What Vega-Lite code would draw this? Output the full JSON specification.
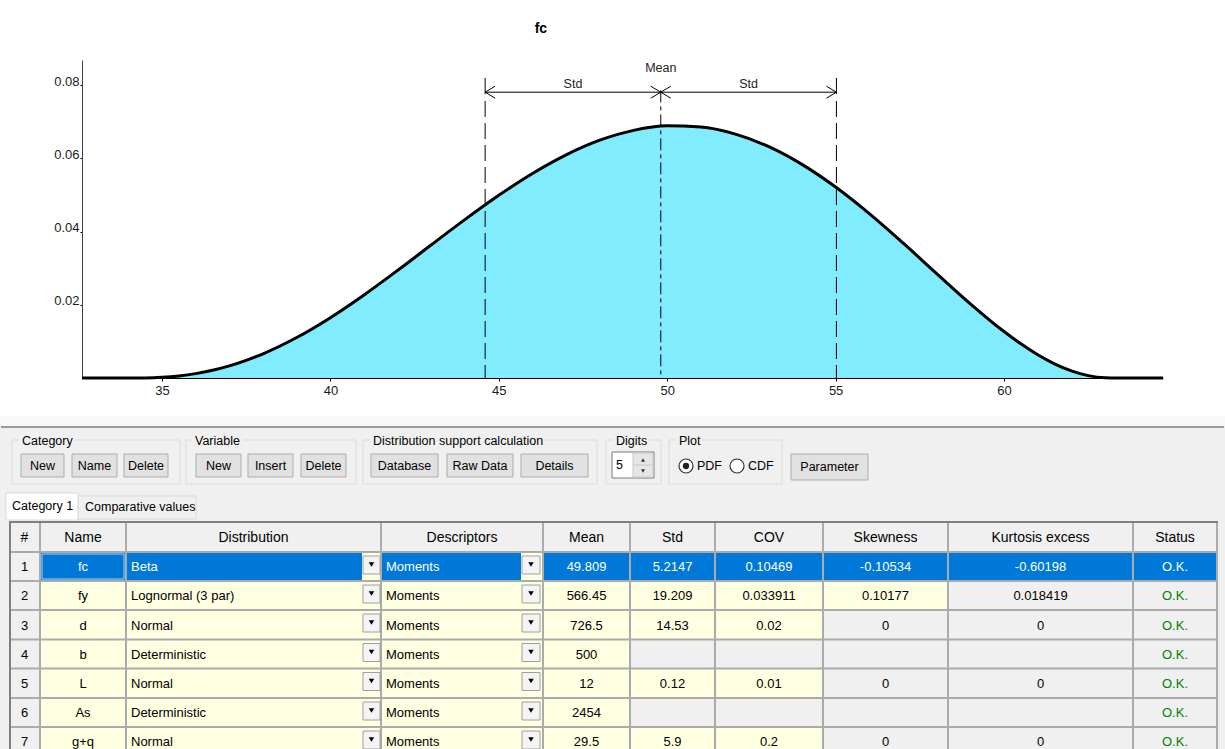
{
  "$schema": "https://vega.github.io/schema/vega-lite/v6.json",
  "padding": {"top": 21, "left": 0, "right": 0, "bottom": 0},
  "background": "white",
  "spacing": 9,
  "config": {"view": {"stroke": null}, "font": "Liberation Sans", "text": {"font": "Liberation Sans"}},
  "datasets": {
    "pdf": [
      {"x": 32.625, "y": 0}, {"x": 34.057, "y": 0}, {"x": 34.5, "y": 0.0000265}, {"x": 35, "y": 0.000189},
      {"x": 35.5, "y": 0.000562}, {"x": 36, "y": 0.001191}, {"x": 36.5, "y": 0.002101}, {"x": 37, "y": 0.003307},
      {"x": 37.5, "y": 0.004813}, {"x": 38, "y": 0.006615}, {"x": 39, "y": 0.011059}, {"x": 40, "y": 0.016492},
      {"x": 41, "y": 0.0227}, {"x": 42, "y": 0.029433}, {"x": 43, "y": 0.036409}, {"x": 44, "y": 0.043337},
      {"x": 45, "y": 0.049928}, {"x": 46, "y": 0.055899}, {"x": 47, "y": 0.060993}, {"x": 48, "y": 0.06498},
      {"x": 49, "y": 0.067667}, {"x": 50, "y": 0.068908}, {"x": 51, "y": 0.068607}, {"x": 52, "y": 0.066725},
      {"x": 53, "y": 0.063286}, {"x": 54, "y": 0.058383}, {"x": 55, "y": 0.05218}, {"x": 56, "y": 0.044915},
      {"x": 57, "y": 0.036903}, {"x": 58, "y": 0.028536}, {"x": 59, "y": 0.020287}, {"x": 60, "y": 0.012694},
      {"x": 60.5, "y": 0.009333}, {"x": 61, "y": 0.006366}, {"x": 61.5, "y": 0.003876}, {"x": 62, "y": 0.001945},
      {"x": 62.5, "y": 0.000647}, {"x": 63, "y": 0.0000444}, {"x": 63.188, "y": 0}, {"x": 64.72, "y": 0}
    ],
    "stats": [{"mean": 49.809, "std": 5.2147, "lo": 44.5943, "hi": 55.0237}],
    "arrows": [{"x": 44.5943, "d": "l"}, {"x": 49.809, "d": "r"}, {"x": 49.809, "d": "l"}, {"x": 55.0237, "d": "r"}],
    "ann": [{"t": "Std", "x": 47.2017, "y": 0.0803}, {"t": "Std", "x": 52.4164, "y": 0.0803}, {"t": "Mean", "x": 49.809, "y": 0.0846}],
    "rects": [
      {"k": "bg", "x0": 0, "x1": 1225, "y0": 415, "y1": 749},
      {"k": "band", "x0": 0, "x1": 1225, "y0": 415, "y1": 425},
      {"k": "gbox", "x0": 12, "x1": 180, "y0": 439, "y1": 483},
      {"k": "gbox", "x0": 186, "x1": 356, "y0": 439, "y1": 483},
      {"k": "gbox", "x0": 363, "x1": 597, "y0": 439, "y1": 483},
      {"k": "gbox", "x0": 606, "x1": 661, "y0": 439, "y1": 483},
      {"k": "gbox", "x0": 669, "x1": 782, "y0": 439, "y1": 483},
      {"k": "lbl", "x0": 19, "x1": 75, "y0": 432, "y1": 447},
      {"k": "lbl", "x0": 192, "x1": 243, "y0": 432, "y1": 447},
      {"k": "lbl", "x0": 370, "x1": 545, "y0": 432, "y1": 447},
      {"k": "lbl", "x0": 613, "x1": 649, "y0": 432, "y1": 447},
      {"k": "lbl", "x0": 676, "x1": 702, "y0": 432, "y1": 447},
      {"k": "btn", "x0": 21, "x1": 64, "y0": 453, "y1": 476},
      {"k": "btn", "x0": 72, "x1": 117, "y0": 453, "y1": 476},
      {"k": "btn", "x0": 124, "x1": 168, "y0": 453, "y1": 476},
      {"k": "btn", "x0": 196, "x1": 241, "y0": 453, "y1": 476},
      {"k": "btn", "x0": 248, "x1": 293, "y0": 453, "y1": 476},
      {"k": "btn", "x0": 301, "x1": 346, "y0": 453, "y1": 476},
      {"k": "btn", "x0": 371, "x1": 438, "y0": 453, "y1": 476},
      {"k": "btn", "x0": 447, "x1": 513, "y0": 453, "y1": 476},
      {"k": "btn", "x0": 521, "x1": 588, "y0": 453, "y1": 476},
      {"k": "btn", "x0": 791, "x1": 868, "y0": 453, "y1": 479},
      {"k": "spin", "x0": 612, "x1": 654, "y0": 451, "y1": 477},
      {"k": "spinbtn", "x0": 633, "x1": 653, "y0": 452, "y1": 476},
      {"k": "tab", "x0": 78, "x1": 196, "y0": 495, "y1": 518},
      {"k": "tabsel", "x0": 6, "x1": 78, "y0": 492, "y1": 519},
      {"k": "sel", "x0": 40, "x1": 1217, "y0": 551, "y1": 580},
      {"k": "edit", "x0": 362, "x1": 381, "y0": 551, "y1": 580},
      {"k": "edit", "x0": 521, "x1": 543, "y0": 551, "y1": 580},
      {"k": "edit", "x0": 40, "x1": 948, "y0": 580, "y1": 609},
      {"k": "edit", "x0": 40, "x1": 823, "y0": 609, "y1": 638.5},
      {"k": "edit", "x0": 40, "x1": 630, "y0": 638.5, "y1": 667.5},
      {"k": "edit", "x0": 40, "x1": 823, "y0": 667.5, "y1": 697},
      {"k": "edit", "x0": 40, "x1": 630, "y0": 697, "y1": 726},
      {"k": "edit", "x0": 40, "x1": 823, "y0": 726, "y1": 749},
      {"k": "focus", "x0": 42, "x1": 124, "y0": 553, "y1": 578},
      {"k": "dd", "x0": 363, "x1": 380, "y0": 555, "y1": 573},
      {"k": "dd", "x0": 522, "x1": 540, "y0": 555, "y1": 573},
      {"k": "dd", "x0": 363, "x1": 380, "y0": 584, "y1": 602},
      {"k": "dd", "x0": 522, "x1": 540, "y0": 584, "y1": 602},
      {"k": "dd", "x0": 363, "x1": 380, "y0": 613, "y1": 631},
      {"k": "dd", "x0": 522, "x1": 540, "y0": 613, "y1": 631},
      {"k": "dd", "x0": 363, "x1": 380, "y0": 642.5, "y1": 660.5},
      {"k": "dd", "x0": 522, "x1": 540, "y0": 642.5, "y1": 660.5},
      {"k": "dd", "x0": 363, "x1": 380, "y0": 671.5, "y1": 689.5},
      {"k": "dd", "x0": 522, "x1": 540, "y0": 671.5, "y1": 689.5},
      {"k": "dd", "x0": 363, "x1": 380, "y0": 701, "y1": 719},
      {"k": "dd", "x0": 522, "x1": 540, "y0": 701, "y1": 719},
      {"k": "dd", "x0": 363, "x1": 380, "y0": 730, "y1": 748},
      {"k": "dd", "x0": 522, "x1": 540, "y0": 730, "y1": 748}
    ],
    "rules": [
      {"k": "sep", "x0": 1, "x1": 1224, "y0": 426, "y1": 426},
      {"k": "spinmid", "x0": 633, "x1": 653, "y0": 464, "y1": 464},
      {"k": "grid", "x0": 9, "x1": 1217, "y0": 551, "y1": 551},
      {"k": "grid", "x0": 9, "x1": 1217, "y0": 580, "y1": 580},
      {"k": "grid", "x0": 9, "x1": 1217, "y0": 609, "y1": 609},
      {"k": "grid", "x0": 9, "x1": 1217, "y0": 638.5, "y1": 638.5},
      {"k": "grid", "x0": 9, "x1": 1217, "y0": 667.5, "y1": 667.5},
      {"k": "grid", "x0": 9, "x1": 1217, "y0": 697, "y1": 697},
      {"k": "grid", "x0": 9, "x1": 1217, "y0": 726, "y1": 726},
      {"k": "grid", "x0": 40, "x1": 40, "y0": 522, "y1": 748},
      {"k": "grid", "x0": 126, "x1": 126, "y0": 522, "y1": 748},
      {"k": "grid", "x0": 381, "x1": 381, "y0": 522, "y1": 748},
      {"k": "grid", "x0": 543, "x1": 543, "y0": 522, "y1": 748},
      {"k": "grid", "x0": 630, "x1": 630, "y0": 522, "y1": 748},
      {"k": "grid", "x0": 715, "x1": 715, "y0": 522, "y1": 748},
      {"k": "grid", "x0": 823, "x1": 823, "y0": 522, "y1": 748},
      {"k": "grid", "x0": 948, "x1": 948, "y0": 522, "y1": 748},
      {"k": "grid", "x0": 1133, "x1": 1133, "y0": 522, "y1": 748},
      {"k": "grid", "x0": 1217, "x1": 1217, "y0": 522, "y1": 748},
      {"k": "frame", "x0": 9, "x1": 1218, "y0": 521, "y1": 521},
      {"k": "frame", "x0": 10, "x1": 10, "y0": 520, "y1": 748}
    ],
    "texts": [
      {"k": "cc", "x0": 42.5, "y0": 464.5, "t": "New"},
      {"k": "cc", "x0": 94.5, "y0": 464.5, "t": "Name"},
      {"k": "cc", "x0": 146, "y0": 464.5, "t": "Delete"},
      {"k": "cc", "x0": 218.5, "y0": 464.5, "t": "New"},
      {"k": "cc", "x0": 270.5, "y0": 464.5, "t": "Insert"},
      {"k": "cc", "x0": 323.5, "y0": 464.5, "t": "Delete"},
      {"k": "cc", "x0": 404.5, "y0": 464.5, "t": "Database"},
      {"k": "cc", "x0": 480, "y0": 464.5, "t": "Raw Data"},
      {"k": "cc", "x0": 554.5, "y0": 464.5, "t": "Details"},
      {"k": "cc", "x0": 829.5, "y0": 466, "t": "Parameter"},
      {"k": "cl", "x0": 22, "y0": 439.5, "t": "Category"},
      {"k": "cl", "x0": 195, "y0": 439.5, "t": "Variable"},
      {"k": "cl", "x0": 373, "y0": 439.5, "t": "Distribution support calculation"},
      {"k": "cl", "x0": 616, "y0": 439.5, "t": "Digits"},
      {"k": "cl", "x0": 679, "y0": 439.5, "t": "Plot"},
      {"k": "cl", "x0": 616, "y0": 464, "t": "5"},
      {"k": "cl", "x0": 697, "y0": 465, "t": "PDF"},
      {"k": "cl", "x0": 748, "y0": 465, "t": "CDF"},
      {"k": "cl", "x0": 12, "y0": 505, "t": "Category 1"},
      {"k": "cl", "x0": 85, "y0": 506, "t": "Comparative values"},
      {"k": "h", "x0": 24.5, "y0": 537, "t": "#"},
      {"k": "h", "x0": 83, "y0": 537, "t": "Name"},
      {"k": "h", "x0": 253.5, "y0": 537, "t": "Distribution"},
      {"k": "h", "x0": 462, "y0": 537, "t": "Descriptors"},
      {"k": "h", "x0": 586.5, "y0": 537, "t": "Mean"},
      {"k": "h", "x0": 672.5, "y0": 537, "t": "Std"},
      {"k": "h", "x0": 769, "y0": 537, "t": "COV"},
      {"k": "h", "x0": 885.5, "y0": 537, "t": "Skewness"},
      {"k": "h", "x0": 1040.5, "y0": 537, "t": "Kurtosis excess"},
      {"k": "h", "x0": 1175, "y0": 537, "t": "Status"},

      {"k": "c", "x0": 24.5, "y0": 566, "t": "1"},
      {"k": "cw", "x0": 83, "y0": 566, "t": "fc"},
      {"k": "lw", "x0": 131, "y0": 566, "t": "Beta"},
      {"k": "lw", "x0": 386, "y0": 566, "t": "Moments"},
      {"k": "cw", "x0": 586.5, "y0": 566, "t": "49.809"},
      {"k": "cw", "x0": 672.5, "y0": 566, "t": "5.2147"},
      {"k": "cw", "x0": 769, "y0": 566, "t": "0.10469"},
      {"k": "cw", "x0": 885.5, "y0": 566, "t": "-0.10534"},
      {"k": "cw", "x0": 1040.5, "y0": 566, "t": "-0.60198"},
      {"k": "cw", "x0": 1175, "y0": 566, "t": "O.K."},

      {"k": "c", "x0": 24.5, "y0": 595, "t": "2"},
      {"k": "c", "x0": 83, "y0": 595, "t": "fy"},
      {"k": "l", "x0": 131, "y0": 595, "t": "Lognormal (3 par)"},
      {"k": "l", "x0": 386, "y0": 595, "t": "Moments"},
      {"k": "c", "x0": 586.5, "y0": 595, "t": "566.45"},
      {"k": "c", "x0": 672.5, "y0": 595, "t": "19.209"},
      {"k": "c", "x0": 769, "y0": 595, "t": "0.033911"},
      {"k": "c", "x0": 885.5, "y0": 595, "t": "0.10177"},
      {"k": "c", "x0": 1040.5, "y0": 595, "t": "0.018419"},
      {"k": "ok", "x0": 1175, "y0": 595, "t": "O.K."},

      {"k": "c", "x0": 24.5, "y0": 624.5, "t": "3"},
      {"k": "c", "x0": 83, "y0": 624.5, "t": "d"},
      {"k": "l", "x0": 131, "y0": 624.5, "t": "Normal"},
      {"k": "l", "x0": 386, "y0": 624.5, "t": "Moments"},
      {"k": "c", "x0": 586.5, "y0": 624.5, "t": "726.5"},
      {"k": "c", "x0": 672.5, "y0": 624.5, "t": "14.53"},
      {"k": "c", "x0": 769, "y0": 624.5, "t": "0.02"},
      {"k": "c", "x0": 885.5, "y0": 624.5, "t": "0"},
      {"k": "c", "x0": 1040.5, "y0": 624.5, "t": "0"},
      {"k": "ok", "x0": 1175, "y0": 624.5, "t": "O.K."},

      {"k": "c", "x0": 24.5, "y0": 653.5, "t": "4"},
      {"k": "c", "x0": 83, "y0": 653.5, "t": "b"},
      {"k": "l", "x0": 131, "y0": 653.5, "t": "Deterministic"},
      {"k": "l", "x0": 386, "y0": 653.5, "t": "Moments"},
      {"k": "c", "x0": 586.5, "y0": 653.5, "t": "500"},
      {"k": "ok", "x0": 1175, "y0": 653.5, "t": "O.K."},

      {"k": "c", "x0": 24.5, "y0": 683, "t": "5"},
      {"k": "c", "x0": 83, "y0": 683, "t": "L"},
      {"k": "l", "x0": 131, "y0": 683, "t": "Normal"},
      {"k": "l", "x0": 386, "y0": 683, "t": "Moments"},
      {"k": "c", "x0": 586.5, "y0": 683, "t": "12"},
      {"k": "c", "x0": 672.5, "y0": 683, "t": "0.12"},
      {"k": "c", "x0": 769, "y0": 683, "t": "0.01"},
      {"k": "c", "x0": 885.5, "y0": 683, "t": "0"},
      {"k": "c", "x0": 1040.5, "y0": 683, "t": "0"},
      {"k": "ok", "x0": 1175, "y0": 683, "t": "O.K."},

      {"k": "c", "x0": 24.5, "y0": 712, "t": "6"},
      {"k": "c", "x0": 83, "y0": 712, "t": "As"},
      {"k": "l", "x0": 131, "y0": 712, "t": "Deterministic"},
      {"k": "l", "x0": 386, "y0": 712, "t": "Moments"},
      {"k": "c", "x0": 586.5, "y0": 712, "t": "2454"},
      {"k": "ok", "x0": 1175, "y0": 712, "t": "O.K."},

      {"k": "c", "x0": 24.5, "y0": 741, "t": "7"},
      {"k": "c", "x0": 83, "y0": 741, "t": "g+q"},
      {"k": "l", "x0": 131, "y0": 741, "t": "Normal"},
      {"k": "l", "x0": 386, "y0": 741, "t": "Moments"},
      {"k": "c", "x0": 586.5, "y0": 741, "t": "29.5"},
      {"k": "c", "x0": 672.5, "y0": 741, "t": "5.9"},
      {"k": "c", "x0": 769, "y0": 741, "t": "0.2"},
      {"k": "c", "x0": 885.5, "y0": 741, "t": "0"},
      {"k": "c", "x0": 1040.5, "y0": 741, "t": "0"},
      {"k": "ok", "x0": 1175, "y0": 741, "t": "O.K."}
    ],
    "pts": [
      {"k": "tri", "x0": 371.5, "y0": 563.5}, {"k": "tri", "x0": 531, "y0": 563.5},
      {"k": "tri", "x0": 371.5, "y0": 592.5}, {"k": "tri", "x0": 531, "y0": 592.5},
      {"k": "tri", "x0": 371.5, "y0": 621.5}, {"k": "tri", "x0": 531, "y0": 621.5},
      {"k": "tri", "x0": 371.5, "y0": 651}, {"k": "tri", "x0": 531, "y0": 651},
      {"k": "tri", "x0": 371.5, "y0": 680}, {"k": "tri", "x0": 531, "y0": 680},
      {"k": "tri", "x0": 371.5, "y0": 709.5}, {"k": "tri", "x0": 531, "y0": 709.5},
      {"k": "tri", "x0": 371.5, "y0": 738.5}, {"k": "tri", "x0": 531, "y0": 738.5},
      {"k": "su", "x0": 643, "y0": 459}, {"k": "sd", "x0": 643, "y0": 470},
      {"k": "radio", "x0": 686, "y0": 465}, {"k": "radio", "x0": 737, "y0": 465},
      {"k": "dot", "x0": 686, "y0": 465}
    ]
  },
  "vconcat": [
    {
      "width": 1081,
      "height": 318,
      "layer": [
        {
          "data": {"name": "pdf"},
          "mark": {"type": "area", "fill": "#80ECFD", "interpolate": "monotone"},
          "encoding": {
            "x": {"field": "x", "type": "quantitative",
              "scale": {"domain": [32.625, 64.72], "nice": false, "zero": false},
              "axis": {"values": [35, 40, 45, 50, 55, 60], "title": null, "grid": false, "labelFontSize": 13, "labelFont": "Liberation Sans", "labelColor": "#1a1a1a", "tickSize": 3, "tickColor": "#000", "domainColor": "#000", "labelPadding": 3, "labelFlush": false}},
            "y": {"field": "y", "type": "quantitative",
              "scale": {"domain": [0, 0.0869], "nice": false, "zero": false},
              "axis": {"values": [0.02, 0.04, 0.06, 0.08], "format": ".2f", "title": null, "grid": false, "labelFontSize": 13, "labelFont": "Liberation Sans", "labelColor": "#1a1a1a", "tickSize": 2, "tickColor": "#000", "domainColor": "#404040", "labelPadding": 1, "labelBaseline": "alphabetic", "minExtent": 82, "maxExtent": 82}}
          }
        },
        {
          "data": {"name": "pdf"},
          "mark": {"type": "line", "stroke": "#000", "strokeWidth": 3, "interpolate": "monotone"},
          "encoding": {"x": {"field": "x", "type": "quantitative"}, "y": {"field": "y", "type": "quantitative"}}
        },
        {
          "data": {"name": "stats"},
          "mark": {"type": "rule", "stroke": "#000", "strokeWidth": 1},
          "encoding": {"x": {"field": "lo", "type": "quantitative"}, "y": {"datum": 0.082}, "y2": {"datum": 0.0776}}
        },
        {
          "data": {"name": "stats"},
          "mark": {"type": "rule", "stroke": "#000", "strokeWidth": 1},
          "encoding": {"x": {"field": "hi", "type": "quantitative"}, "y": {"datum": 0.082}, "y2": {"datum": 0.0776}}
        },
        {
          "data": {"name": "stats"},
          "mark": {"type": "rule", "stroke": "#000", "strokeWidth": 1, "strokeDash": [16, 6]},
          "encoding": {"x": {"field": "lo", "type": "quantitative"}, "y": {"datum": 0.0757}, "y2": {"datum": 0}}
        },
        {
          "data": {"name": "stats"},
          "mark": {"type": "rule", "stroke": "#000", "strokeWidth": 1, "strokeDash": [16, 6]},
          "encoding": {"x": {"field": "hi", "type": "quantitative"}, "y": {"datum": 0.0757}, "y2": {"datum": 0}}
        },
        {
          "data": {"name": "stats"},
          "mark": {"type": "rule", "stroke": "#000", "strokeWidth": 1, "strokeDash": [12, 4, 4, 4]},
          "encoding": {"x": {"field": "mean", "type": "quantitative"}, "y": {"datum": 0.0786}, "y2": {"datum": 0}}
        },
        {
          "data": {"name": "stats"},
          "mark": {"type": "rule", "stroke": "#000", "strokeWidth": 1},
          "encoding": {"x": {"field": "lo", "type": "quantitative"}, "x2": {"field": "hi"}, "y": {"datum": 0.0781}}
        },
        {
          "data": {"name": "arrows"},
          "transform": [{"filter": "datum.d == 'l'"}],
          "mark": {"type": "point", "shape": "M1,-0.6L0,0L1,0.6", "size": 400, "filled": false, "stroke": "#000", "strokeWidth": 1, "opacity": 1},
          "encoding": {"x": {"field": "x", "type": "quantitative"}, "y": {"datum": 0.0781}}
        },
        {
          "data": {"name": "arrows"},
          "transform": [{"filter": "datum.d == 'r'"}],
          "mark": {"type": "point", "shape": "M-1,-0.6L0,0L-1,0.6", "size": 400, "filled": false, "stroke": "#000", "strokeWidth": 1, "opacity": 1},
          "encoding": {"x": {"field": "x", "type": "quantitative"}, "y": {"datum": 0.0781}}
        },
        {
          "data": {"name": "ann"},
          "mark": {"type": "text", "fontSize": 12.5, "font": "Liberation Sans", "fill": "#222", "align": "center", "baseline": "middle"},
          "encoding": {"x": {"field": "x", "type": "quantitative"}, "y": {"field": "y", "type": "quantitative"}, "text": {"field": "t"}}
        },
        {
          "data": {"values": [{"t": "fc"}]},
          "mark": {"type": "text", "fontSize": 14, "fontWeight": "bold", "font": "Liberation Sans", "fill": "#000", "align": "center", "baseline": "middle"},
          "encoding": {"x": {"datum": 46.25}, "y": {"datum": 0.0954}, "text": {"field": "t"}}
        }
      ]
    },
    {
      "width": 1143,
      "height": 344,
      "view": {"fill": null, "stroke": null},
      "encoding": {
        "x": {"field": "x0", "type": "quantitative", "scale": {"domain": [82, 1225], "nice": false, "zero": false}, "axis": null},
        "y": {"field": "y0", "type": "quantitative", "scale": {"domain": [405, 749], "nice": false, "zero": false, "reverse": true}, "axis": null}
      },
      "layer": [
        {"data": {"name": "rects"}, "transform": [{"filter": "datum.k == 'bg'"}], "mark": {"type": "rect", "fill": "#F0F0F0"}, "encoding": {"x2": {"field": "x1"}, "y2": {"field": "y1"}}},
        {"data": {"name": "rects"}, "transform": [{"filter": "datum.k == 'band'"}], "mark": {"type": "rect", "fill": "#F8F8F8"}, "encoding": {"x2": {"field": "x1"}, "y2": {"field": "y1"}}},
        {"data": {"name": "rects"}, "transform": [{"filter": "datum.k == 'tab'"}], "mark": {"type": "rect", "fill": "#F0F0F0", "stroke": "#D9D9D9", "strokeWidth": 1}, "encoding": {"x2": {"field": "x1"}, "y2": {"field": "y1"}}},
        {"data": {"name": "rects"}, "transform": [{"filter": "datum.k == 'tabsel'"}], "mark": {"type": "rect", "fill": "#FFFFFF", "stroke": "#D9D9D9", "strokeWidth": 1}, "encoding": {"x2": {"field": "x1"}, "y2": {"field": "y1"}}},
        {"data": {"name": "rects"}, "transform": [{"filter": "datum.k == 'gbox'"}], "mark": {"type": "rect", "fill": "transparent", "stroke": "#DCDCDC", "strokeWidth": 1}, "encoding": {"x2": {"field": "x1"}, "y2": {"field": "y1"}}},
        {"data": {"name": "rects"}, "transform": [{"filter": "datum.k == 'lbl'"}], "mark": {"type": "rect", "fill": "#F0F0F0"}, "encoding": {"x2": {"field": "x1"}, "y2": {"field": "y1"}}},
        {"data": {"name": "rects"}, "transform": [{"filter": "datum.k == 'btn'"}], "mark": {"type": "rect", "fill": "#E1E1E1", "stroke": "#ADADAD", "strokeWidth": 1}, "encoding": {"x2": {"field": "x1"}, "y2": {"field": "y1"}}},
        {"data": {"name": "rects"}, "transform": [{"filter": "datum.k == 'spin'"}], "mark": {"type": "rect", "fill": "#FFFFFF", "stroke": "#7A7A7A", "strokeWidth": 1}, "encoding": {"x2": {"field": "x1"}, "y2": {"field": "y1"}}},
        {"data": {"name": "rects"}, "transform": [{"filter": "datum.k == 'spinbtn'"}], "mark": {"type": "rect", "fill": "#E6E6E6", "stroke": "#C8C8C8", "strokeWidth": 1}, "encoding": {"x2": {"field": "x1"}, "y2": {"field": "y1"}}},
        {"data": {"name": "rects"}, "transform": [{"filter": "datum.k == 'sel'"}], "mark": {"type": "rect", "fill": "#0078D7"}, "encoding": {"x2": {"field": "x1"}, "y2": {"field": "y1"}}},
        {"data": {"name": "rects"}, "transform": [{"filter": "datum.k == 'edit'"}], "mark": {"type": "rect", "fill": "#FFFFE1"}, "encoding": {"x2": {"field": "x1"}, "y2": {"field": "y1"}}},
        {"data": {"name": "rules"}, "transform": [{"filter": "datum.k == 'grid'"}], "mark": {"type": "rule", "stroke": "#ABABAB", "strokeWidth": 2}, "encoding": {"x2": {"field": "x1"}, "y2": {"field": "y1"}}},
        {"data": {"name": "rules"}, "transform": [{"filter": "datum.k == 'frame'"}], "mark": {"type": "rule", "stroke": "#7F7F7F", "strokeWidth": 2}, "encoding": {"x2": {"field": "x1"}, "y2": {"field": "y1"}}},
        {"data": {"name": "rules"}, "transform": [{"filter": "datum.k == 'sep'"}], "mark": {"type": "rule", "stroke": "#9A9A9A", "strokeWidth": 2}, "encoding": {"x2": {"field": "x1"}, "y2": {"field": "y1"}}},
        {"data": {"name": "rules"}, "transform": [{"filter": "datum.k == 'spinmid'"}], "mark": {"type": "rule", "stroke": "#C8C8C8", "strokeWidth": 1}, "encoding": {"x2": {"field": "x1"}, "y2": {"field": "y1"}}},
        {"data": {"name": "rects"}, "transform": [{"filter": "datum.k == 'focus'"}], "mark": {"type": "rect", "fill": "transparent", "stroke": "#A9D0F2", "strokeWidth": 1}, "encoding": {"x2": {"field": "x1"}, "y2": {"field": "y1"}}},
        {"data": {"name": "rects"}, "transform": [{"filter": "datum.k == 'dd'"}], "mark": {"type": "rect", "fill": "#F4F4F4", "stroke": "#A0A0A0", "strokeWidth": 1}, "encoding": {"x2": {"field": "x1"}, "y2": {"field": "y1"}}},
        {"data": {"name": "texts"}, "transform": [{"filter": "datum.k == 'cc'"}], "mark": {"type": "text", "align": "center", "baseline": "middle", "fontSize": 12.5, "font": "Liberation Sans", "fill": "#000"}, "encoding": {"text": {"field": "t"}}},
        {"data": {"name": "texts"}, "transform": [{"filter": "datum.k == 'cl'"}], "mark": {"type": "text", "align": "left", "baseline": "middle", "fontSize": 12.5, "font": "Liberation Sans", "fill": "#000"}, "encoding": {"text": {"field": "t"}}},
        {"data": {"name": "texts"}, "transform": [{"filter": "datum.k == 'h'"}], "mark": {"type": "text", "align": "center", "baseline": "middle", "fontSize": 14, "font": "Liberation Sans", "fill": "#000"}, "encoding": {"text": {"field": "t"}}},
        {"data": {"name": "texts"}, "transform": [{"filter": "datum.k == 'c'"}], "mark": {"type": "text", "align": "center", "baseline": "middle", "fontSize": 13, "font": "Liberation Sans", "fill": "#000"}, "encoding": {"text": {"field": "t"}}},
        {"data": {"name": "texts"}, "transform": [{"filter": "datum.k == 'l'"}], "mark": {"type": "text", "align": "left", "baseline": "middle", "fontSize": 13, "font": "Liberation Sans", "fill": "#000"}, "encoding": {"text": {"field": "t"}}},
        {"data": {"name": "texts"}, "transform": [{"filter": "datum.k == 'cw'"}], "mark": {"type": "text", "align": "center", "baseline": "middle", "fontSize": 13, "font": "Liberation Sans", "fill": "#FFFFFF"}, "encoding": {"text": {"field": "t"}}},
        {"data": {"name": "texts"}, "transform": [{"filter": "datum.k == 'lw'"}], "mark": {"type": "text", "align": "left", "baseline": "middle", "fontSize": 13, "font": "Liberation Sans", "fill": "#FFFFFF"}, "encoding": {"text": {"field": "t"}}},
        {"data": {"name": "texts"}, "transform": [{"filter": "datum.k == 'ok'"}], "mark": {"type": "text", "align": "center", "baseline": "middle", "fontSize": 13, "font": "Liberation Sans", "fill": "#008000"}, "encoding": {"text": {"field": "t"}}},
        {"data": {"name": "pts"}, "transform": [{"filter": "datum.k == 'tri'"}], "mark": {"type": "point", "shape": "triangle-down", "size": 30, "filled": true, "fill": "#000", "opacity": 1}},
        {"data": {"name": "pts"}, "transform": [{"filter": "datum.k == 'su'"}], "mark": {"type": "point", "shape": "triangle-up", "size": 16, "filled": true, "fill": "#333", "opacity": 1}},
        {"data": {"name": "pts"}, "transform": [{"filter": "datum.k == 'sd'"}], "mark": {"type": "point", "shape": "triangle-down", "size": 16, "filled": true, "fill": "#333", "opacity": 1}},
        {"data": {"name": "pts"}, "transform": [{"filter": "datum.k == 'radio'"}], "mark": {"type": "point", "shape": "circle", "size": 196, "filled": true, "fill": "#FFFFFF", "stroke": "#333", "strokeWidth": 1.2, "opacity": 1}},
        {"data": {"name": "pts"}, "transform": [{"filter": "datum.k == 'dot'"}], "mark": {"type": "point", "shape": "circle", "size": 40, "filled": true, "fill": "#222", "opacity": 1}}
      ]
    }
  ]
}
